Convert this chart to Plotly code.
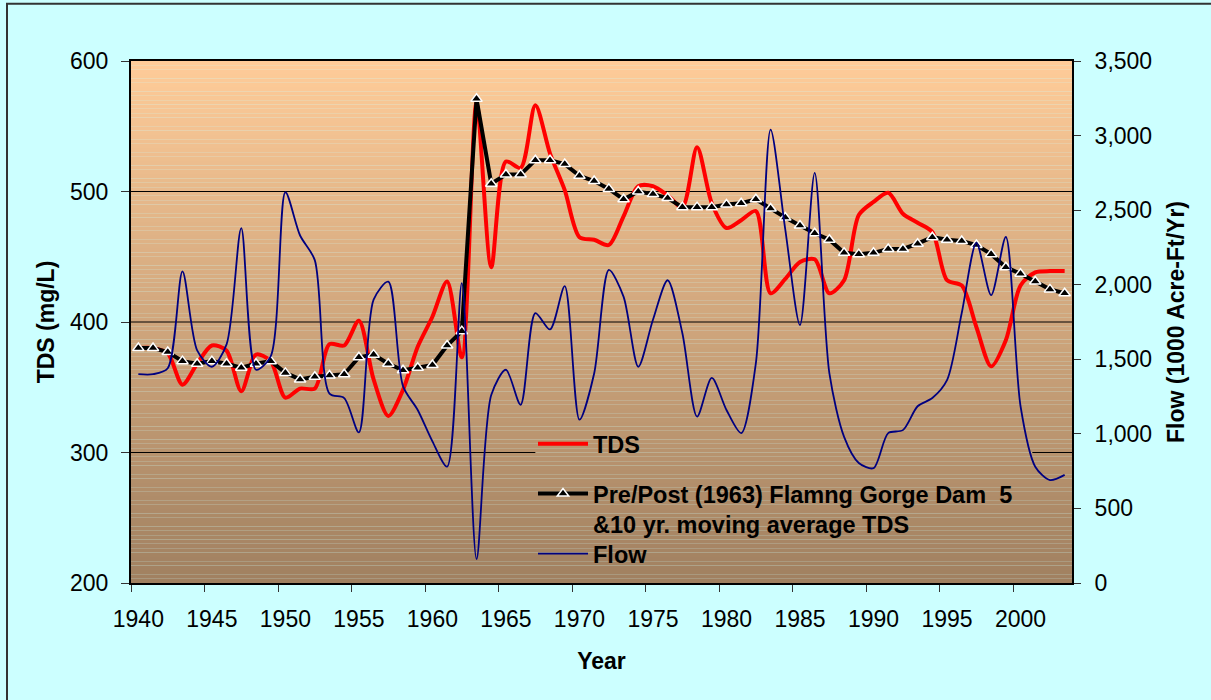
import plotly.graph_objects as go

years = list(range(1940, 2004))

tds = [380, 380, 376, 352, 368, 382, 378, 347, 375, 370,
       342, 349, 349, 383, 382, 401, 356, 328, 348, 381,
       404, 431, 373, 568, 442, 523, 518, 566, 529, 501,
       465, 463, 459, 481, 504, 504, 497, 488, 534, 491,
       472, 478, 485, 422, 433, 446, 448, 422, 432, 482,
       492, 499, 483, 476, 469, 432, 428, 396, 366, 386,
       428, 438, 439, 439]

moving_avg = [380, 380, 377, 370, 368, 370, 368, 365, 368, 370,
              361, 356, 358, 359, 360, 373, 375, 368, 363, 365,
              367, 382, 393, 571, 506, 513, 513, 524, 524, 521,
              512, 508, 502, 494, 500, 498, 495, 488, 488, 488,
              490, 491, 494, 487, 480, 474, 468, 463, 453, 452,
              453, 456, 456, 460, 465, 463, 462, 459, 452, 442,
              437, 431, 425, 422]

flow = [1400, 1400, 1440, 2090, 1560, 1450, 1600, 2380, 1430, 1520,
        2620, 2330, 2165, 1270, 1240, 1010, 1900, 2020, 1320, 1160,
        950, 780, 2010, 160, 1260, 1430, 1195, 1810, 1700, 1990,
        1095, 1405, 2100, 1920, 1450, 1765, 2030, 1675, 1115, 1375,
        1160, 1005, 1475, 3040, 2370, 1730, 2750, 1405, 980, 805,
        770, 1005, 1025, 1185, 1240, 1360, 1810, 2280, 1930, 2320,
        1185, 780, 690, 725]

year_labels = [1940, 1945, 1950, 1955, 1960, 1965, 1970, 1975, 1980, 1985, 1990, 1995, 2000]
tds_ticks = [200, 300, 400, 500, 600]
flow_ticks = [0, 500, 1000, 1500, 2000, 2500, 3000, 3500]

FONT = "Liberation Sans, Arial, sans-serif"

fig = go.Figure()
fig.add_trace(go.Scatter(
    x=years, y=tds, name="TDS", mode="lines",
    line=dict(color="#FF0000", width=4, shape="spline", smoothing=0.8),
    legend="legend", yaxis="y"))
fig.add_trace(go.Scatter(
    x=years, y=moving_avg,
    name="Pre/Post (1963) Flamng Gorge Dam  5<br>&10 yr. moving average TDS",
    mode="lines+markers",
    line=dict(color="#000000", width=4),
    marker=dict(symbol="triangle-up", size=10, color="#000000",
                line=dict(color="#FFFFFF", width=1.5)),
    legend="legend2", yaxis="y"))
fig.add_trace(go.Scatter(
    x=years, y=flow, name="Flow", mode="lines",
    line=dict(color="#000080", width=1.8, shape="spline", smoothing=0.8),
    legend="legend3", yaxis="y2"))

# gradient background of plot area
shapes = []
N = 120
top = (255, 204, 153)
bot = (160, 128, 96)
for i in range(N):
    t = (i + 0.5) / N
    c = tuple(round(bot[k] + (top[k] - bot[k]) * t) for k in range(3))
    shapes.append(dict(type="rect", xref="x domain", yref="y domain",
                       x0=0, x1=1, y0=i / N, y1=(i + 1) / N,
                       fillcolor="rgb(%d,%d,%d)" % c, line=dict(width=0),
                       layer="below"))
# gridlines (300 line hidden behind legend box)
grid = dict(type="line", xref="x", yref="y", line=dict(color="#000000", width=1), layer="below")
shapes.append(dict(grid, x0=1939.5, x1=2003.5, y0=500, y1=500))
shapes.append(dict(grid, x0=1939.5, x1=2003.5, y0=400, y1=400))
shapes.append(dict(grid, x0=1939.5, x1=1967.0, y0=300, y1=300))
shapes.append(dict(grid, x0=2000.8, x1=2003.5, y0=300, y1=300))
# page frame
shapes.append(dict(type="rect", xref="paper", yref="paper",
                   x0=(7 - 131) / 941, x1=(1230 - 131) / 941,
                   y0=(583.3 - 720) / 522.6, y1=(583.3 - 3.5) / 522.6,
                   line=dict(color="#333333", width=2), fillcolor="rgba(0,0,0,0)",
                   layer="below"))

tickfont = dict(family=FONT, size=23, color="#000000")
titlefont = dict(family=FONT, size=23, color="#000000", weight="bold")


def leg(top_px):
    return dict(
        x=(533 - 131) / 941, y=(583.3 - top_px) / 522.6,
        xanchor="left", yanchor="top",
        bgcolor="rgba(0,0,0,0)", borderwidth=0,
        font=dict(family=FONT, size=23.5, color="#000000", weight="bold"),
        valign="top", itemwidth=50,
    )


fig.update_layout(
    template="none",
    width=1211, height=700,
    paper_bgcolor="#CCFFFF",
    plot_bgcolor="rgba(0,0,0,0)",
    margin=dict(l=131, r=139, t=61, b=117, autoexpand=False),
    shapes=shapes,
    showlegend=True,
    legend=leg(422),
    legend2=leg(472),
    legend3=leg(532),
    xaxis=dict(
        range=[1939.5, 2003.5], tickmode="array", tickvals=year_labels,
        ticktext=[str(v) for v in year_labels], ticks="", showgrid=False,
        zeroline=False, showline=True, linecolor="#000000", linewidth=2, mirror=True,
        tickfont=tickfont, ticklabelstandoff=14,
        minor=dict(tickmode="array", tickvals=[1939.5 + 5 * k for k in range(13)],
                   ticks="outside", ticklen=7, tickcolor="#333333", tickwidth=1,
                   showgrid=False),
        title=dict(text="Year", font=titlefont, standoff=22),
        automargin=False,
    ),
    yaxis=dict(
        range=[200, 600], tickmode="array", tickvals=tds_ticks,
        ticks="outside", ticklen=8, tickcolor="#333333", tickwidth=1,
        showgrid=False, zeroline=False, showline=True, linecolor="#000000",
        linewidth=2, tickfont=tickfont, ticklabelstandoff=8,
        title=dict(text="TDS (mg/L)", font=titlefont, standoff=9),
        automargin=False,
    ),
    yaxis2=dict(
        range=[0, 3500], tickmode="array", tickvals=flow_ticks,
        ticktext=["{:,}".format(v) for v in flow_ticks],
        overlaying="y", side="right",
        ticks="outside", ticklen=7, tickcolor="#333333", tickwidth=1,
        showgrid=False, zeroline=False, showline=True, linecolor="#000000",
        linewidth=2, tickfont=tickfont, ticklabelstandoff=9,
        title=dict(text="Flow (1000 Acre-Ft/Yr)", font=titlefont, standoff=17),
        automargin=False,
    ),
)

fig.write_html("out.html")
